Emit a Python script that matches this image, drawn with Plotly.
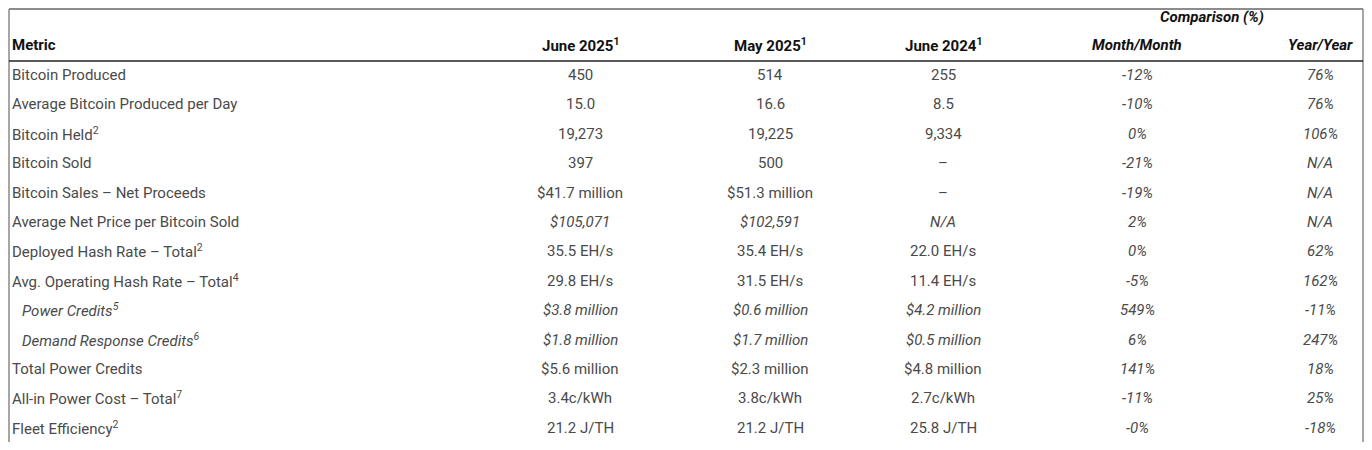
import plotly.graph_objects as go

metrics = ["Bitcoin Produced", "Average Bitcoin Produced per Day", "Bitcoin Held<sup>2</sup>", "Bitcoin Sold",
           "Bitcoin Sales – Net Proceeds", "Average Net Price per Bitcoin Sold", "Deployed Hash Rate – Total<sup>2</sup>",
           "Avg. Operating Hash Rate – Total<sup>4</sup>", "<i>Power Credits<sup>5</sup></i>", "<i>Demand Response Credits<sup>6</sup></i>",
           "Total Power Credits", "All-in Power Cost – Total<sup>7</sup>", "Fleet Efficiency<sup>2</sup>"]
june2025 = ["450", "15.0", "19,273", "397", "$41.7 million", "<i>$105,071</i>", "35.5 EH/s", "29.8 EH/s",
            "<i>$3.8 million</i>", "<i>$1.8 million</i>", "$5.6 million", "3.4c/kWh", "21.2 J/TH"]
may2025 = ["514", "16.6", "19,225", "500", "$51.3 million", "<i>$102,591</i>", "35.4 EH/s", "31.5 EH/s",
           "<i>$0.6 million</i>", "<i>$1.7 million</i>", "$2.3 million", "3.8c/kWh", "21.2 J/TH"]
june2024 = ["255", "8.5", "9,334", "–", "–", "<i>N/A</i>", "22.0 EH/s", "11.4 EH/s",
            "<i>$4.2 million</i>", "<i>$0.5 million</i>", "$4.8 million", "2.7c/kWh", "25.8 J/TH"]
mom = ["-12%", "-10%", "0%", "-21%", "-19%", "2%", "0%", "-5%", "549%", "6%", "141%", "-11%", "-0%"]
yoy = ["76%", "76%", "106%", "N/A", "N/A", "N/A", "62%", "162%", "-11%", "247%", "18%", "25%", "-18%"]
headers = ["Metric", "June 2025<sup>1</sup>", "May 2025<sup>1</sup>", "June 2024<sup>1</sup>", "<i>Month/Month</i>", "<i>Year/Year</i>"]

FONT = "Liberation Sans Narrow, Roboto, sans-serif"
GREY = "#4a4a4a"
fig = go.Figure()
ann = []
colx = [10, 580, 770, 943, 1137, 1320]
row0, dy = 75, 29.4
for i in range(len(metrics)):
    y = row0 + i * dy
    lab = metrics[i]
    indent = 20 if lab.startswith("<i>") else 10
    ann.append(dict(x=indent, y=y, text=lab, xanchor="left", font=dict(size=15, color=GREY)))
    for c, col in zip(colx[1:4], [june2025, may2025, june2024]):
        ann.append(dict(x=c, y=y, text=col[i], xanchor="center", font=dict(size=15, color=GREY)))
    ann.append(dict(x=colx[4], y=y, text="<i>" + mom[i] + "</i>", xanchor="center", font=dict(size=15, color=GREY)))
    ann.append(dict(x=colx[5], y=y, text="<i>" + yoy[i] + "</i>", xanchor="center", font=dict(size=15, color=GREY)))
for j, h in enumerate(headers):
    ann.append(dict(x=colx[j], y=45, text="<b>" + h + "</b>", xanchor="left" if j == 0 else "center",
                    font=dict(size=15, color="#111")))
ann.append(dict(x=1212, y=17, text="<b><i>Comparison (%)</i></b>", xanchor="center", font=dict(size=15, color="#111")))
for a in ann:
    a.update(xref="x", yref="y", showarrow=False, yanchor="middle", font=dict(family=FONT, **a["font"]))

shapes = [
    dict(type="line", x0=9, x1=1363, y0=9, y1=9, line=dict(color="#666", width=1.5)),
    dict(type="line", x0=9, x1=9, y0=9, y1=442, line=dict(color="#888", width=1.5)),
    dict(type="line", x0=1363, x1=1363, y0=9, y1=442, line=dict(color="#888", width=1.5)),
    dict(type="line", x0=9, x1=1363, y0=61, y1=61, line=dict(color="#222", width=1.5)),
]
for s in shapes:
    s.update(xref="x", yref="y")

fig.update_layout(width=1356, height=434, margin=dict(l=0, r=0, t=0, b=0),
                  paper_bgcolor="white", plot_bgcolor="white",
                  xaxis=dict(range=[8, 1364], visible=False, fixedrange=True),
                  yaxis=dict(range=[442, 8], visible=False, fixedrange=True),
                  annotations=ann, shapes=shapes, showlegend=False)
fig.write_html("out.html")
